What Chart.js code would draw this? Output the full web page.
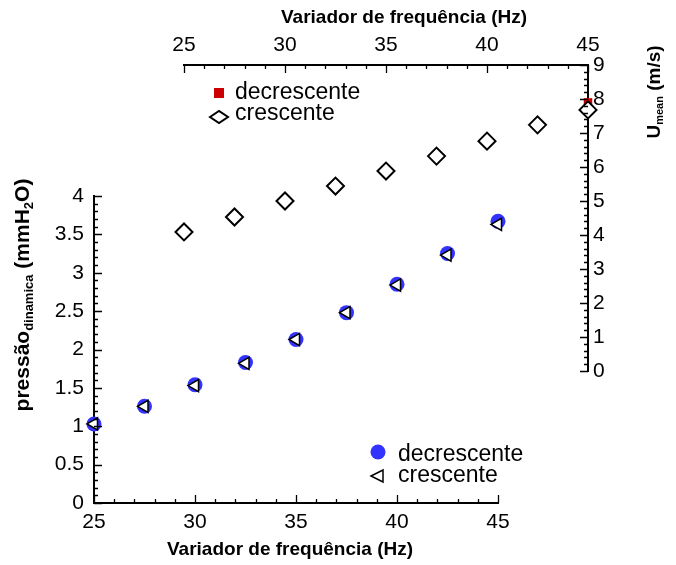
<!DOCTYPE html>
<html><head><meta charset="utf-8">
<script src="https://cdn.jsdelivr.net/npm/chart.js@4.4.1/dist/chart.umd.min.js"></script>
<style>
html,body{margin:0;padding:0;background:#fff;}
#wrap{position:relative;width:676px;height:565px;background:#fff;}
canvas{position:absolute;left:0;top:0;}
</style></head><body>
<div id="wrap"><canvas id="c1" width="676" height="565"></canvas><canvas id="c2" width="676" height="565"></canvas></div>
<script>
// ---- data ----
const frequenciaHz = [25, 27.5, 30, 32.5, 35, 37.5, 40, 42.5, 45];
const pressaoDecrescente = [1.03, 1.26, 1.54, 1.83, 2.13, 2.48, 2.85, 3.25, 3.67];
const pressaoCrescente   = [1.03, 1.26, 1.53, 1.82, 2.13, 2.48, 2.84, 3.23, 3.63];
const velocidadeDecrescente = [4.09, 4.53, 5.00, 5.44, 5.88, 6.32, 6.76, 7.24, 7.90];
const velocidadeCrescente   = [4.09, 4.53, 5.00, 5.44, 5.88, 6.32, 6.76, 7.24, 7.68];
const freqTicks = [25, 30, 35, 40, 45];
const pressaoTicks = [0, 0.5, 1, 1.5, 2, 2.5, 3, 3.5, 4];
const velocidadeTicks = [0, 1, 2, 3, 4, 5, 6, 7, 8, 9];
const serieLabels = ['decrescente', 'crescente'];
const xTitle = 'Variador de frequência (Hz)';

const FONT = "'Liberation Sans', Arial, sans-serif";

function pts(xs, ys){ return xs.map((x,i)=>({x:x, y:ys[i]})); }

function inwardTicks(scale, min, max, minorStep, majorEvery, majorLen, minorLen){
  const ctx = scale.ctx;
  const n = Math.round((max-min)/minorStep);
  ctx.save(); ctx.strokeStyle='#000'; ctx.lineWidth=1.3;
  ctx.beginPath();
  for(let i=0;i<=n;i++){
    const v = min + i*minorStep;
    const len = (i % majorEvery === 0) ? majorLen : minorLen;
    const p = Math.round(scale.getPixelForValue(v)) + 0.5;
    if(scale.isHorizontal()){
      if(scale.position==='bottom'){ const y0=scale.top; ctx.moveTo(p,y0); ctx.lineTo(p,y0-len); }
      else { const y0=scale.bottom; ctx.moveTo(p,y0); ctx.lineTo(p,y0+len); }
    } else {
      if(scale.position==='left'){ const x0=scale.right; ctx.moveTo(x0,p); ctx.lineTo(x0+len,p); }
      else { const x0=scale.left; ctx.moveTo(x0,p); ctx.lineTo(x0-len,p); }
    }
  }
  ctx.stroke(); ctx.restore();
}

function drawRich(ctx, parts, cx, cy, rotate){
  ctx.save();
  ctx.translate(cx, cy);
  if(rotate) ctx.rotate(-Math.PI/2);
  ctx.fillStyle='#000'; ctx.textBaseline='middle'; ctx.textAlign='left';
  let w=0;
  parts.forEach(p=>{ ctx.font='bold '+p[1]+'px '+FONT; w+=ctx.measureText(p[0]).width; });
  let x=-w/2;
  parts.forEach(p=>{ ctx.font='bold '+p[1]+'px '+FONT; ctx.fillText(p[0], x, p[2]); x+=ctx.measureText(p[0]).width; });
  ctx.restore();
}

const deco1 = {
  id:'deco1',
  afterDraw(chart){
    const ctx = chart.ctx;
    inwardTicks(chart.scales.x, freqTicks[0], freqTicks[freqTicks.length-1], 1, 5, 8, 4);
    inwardTicks(chart.scales.y, pressaoTicks[0], pressaoTicks[pressaoTicks.length-1], 0.1, 5, 8, 4);
    drawRich(ctx, [[xTitle,19,0]], 290, 550, false);
    drawRich(ctx, [['pressão',21,0],['dinamica',13,6],[' (mmH',21,0],['2',13,6],['O)',21,0]], 23, 295, true);
    ctx.save();
    ctx.fillStyle='#3333ff'; ctx.beginPath(); ctx.arc(378,452,7.5,0,Math.PI*2); ctx.fill();
    ctx.strokeStyle='#000'; ctx.lineWidth=1.5; ctx.fillStyle='#fff';
    ctx.beginPath(); ctx.moveTo(371,476); ctx.lineTo(383,470); ctx.lineTo(383,482); ctx.closePath(); ctx.fill(); ctx.stroke();
    ctx.fillStyle='#000'; ctx.font='23px '+FONT; ctx.textBaseline='middle'; ctx.textAlign='left';
    ctx.fillText(serieLabels[0], 398, 455);
    ctx.fillText(serieLabels[1], 398, 476);
    ctx.restore();
  }
};

const deco2 = {
  id:'deco2',
  afterDraw(chart){
    const ctx = chart.ctx;
    inwardTicks(chart.scales.x, freqTicks[0], freqTicks[freqTicks.length-1], 1, 5, 8, 4);
    inwardTicks(chart.scales.y, velocidadeTicks[0], velocidadeTicks[velocidadeTicks.length-1], 0.2, 5, 8, 4);
    drawRich(ctx, [[xTitle,19,0]], 404, 18, false);
    drawRich(ctx, [['U',19,0],['mean',11,5],[' (m/s)',19,0]], 655, 92, true);
    ctx.save();
    ctx.fillStyle='#cc0000'; ctx.fillRect(214,88,10,10);
    ctx.strokeStyle='#000'; ctx.lineWidth=2; ctx.fillStyle='#fff';
    ctx.beginPath(); ctx.moveTo(210,117); ctx.lineTo(219,111); ctx.lineTo(228,117); ctx.lineTo(219,123); ctx.closePath(); ctx.fill(); ctx.stroke();
    ctx.fillStyle='#000'; ctx.font='23px '+FONT; ctx.textBaseline='middle'; ctx.textAlign='left';
    ctx.fillText(serieLabels[0], 235, 93);
    ctx.fillText(serieLabels[1], 235, 114);
    ctx.restore();
  }
};

const tickFont = {family:FONT, size:21};
const plainNum = v => String(v);

new Chart(document.getElementById('c1'), {
  type:'scatter',
  data:{datasets:[
    {label:serieLabels[0], data:pts(frequenciaHz, pressaoDecrescente), order:2, pointStyle:'circle', pointRadius:7.5,
     pointBackgroundColor:'#3333ff', pointBorderColor:'#3333ff', pointBorderWidth:0, clip:false},
    {label:serieLabels[1], data:pts(frequenciaHz, pressaoCrescente), order:1, pointStyle:'triangle', pointRotation:-90, pointRadius:7,
     pointBackgroundColor:'#ffffff', pointBorderColor:'#000', pointBorderWidth:1.5, clip:false}
  ]},
  options:{
    responsive:false, animation:false, events:[],
    layout:{padding:{left:0, right:178, top:196, bottom:0}},
    plugins:{legend:{display:false}, tooltip:{enabled:false}},
    scales:{
      x:{type:'linear', position:'bottom', min:freqTicks[0], max:freqTicks[freqTicks.length-1],
         grid:{display:false, drawTicks:false}, border:{display:true, color:'#000', width:2},
         ticks:{color:'#000', font:tickFont, padding:7, maxRotation:0, callback:plainNum},
         afterBuildTicks:s=>{ s.ticks = freqTicks.map(v=>({value:v})); },
         afterFit:s=>{ s.height = 62; }},
      y:{type:'linear', position:'left', min:pressaoTicks[0], max:pressaoTicks[pressaoTicks.length-1],
         grid:{display:false, drawTicks:false}, border:{display:true, color:'#000', width:2},
         ticks:{color:'#000', font:tickFont, padding:10, callback:plainNum},
         afterBuildTicks:s=>{ s.ticks = pressaoTicks.map(v=>({value:v})); },
         afterFit:s=>{ s.width = 94; }}
    }
  },
  plugins:[deco1]
});

new Chart(document.getElementById('c2'), {
  type:'scatter',
  data:{datasets:[
    {label:serieLabels[0], data:pts(frequenciaHz, velocidadeDecrescente), order:2, pointStyle:'rect', pointRadius:6,
     pointBackgroundColor:'#cc0000', pointBorderColor:'#cc0000', pointBorderWidth:0, clip:false},
    {label:serieLabels[1], data:pts(frequenciaHz, velocidadeCrescente), order:1, pointStyle:'rectRot', pointRadius:8.5,
     pointBackgroundColor:'#ffffff', pointBorderColor:'#000', pointBorderWidth:2, clip:false}
  ]},
  options:{
    responsive:false, animation:false, events:[],
    layout:{padding:{left:184, right:0, top:0, bottom:194}},
    plugins:{legend:{display:false}, tooltip:{enabled:false}},
    scales:{
      x:{type:'linear', position:'top', min:freqTicks[0], max:freqTicks[freqTicks.length-1],
         grid:{display:false, drawTicks:false}, border:{display:true, color:'#000', width:2},
         ticks:{color:'#000', font:tickFont, padding:7, maxRotation:0, callback:plainNum},
         afterBuildTicks:s=>{ s.ticks = freqTicks.map(v=>({value:v})); },
         afterFit:s=>{ s.height = 65; }},
      y:{type:'linear', position:'right', min:velocidadeTicks[0], max:velocidadeTicks[velocidadeTicks.length-1],
         grid:{display:false, drawTicks:false}, border:{display:true, color:'#000', width:2},
         ticks:{color:'#000', font:tickFont, padding:5, callback:plainNum},
         afterBuildTicks:s=>{ s.ticks = velocidadeTicks.map(v=>({value:v})); },
         afterFit:s=>{ s.width = 88; }}
    }
  },
  plugins:[deco2]
});
</script>
</body></html>
